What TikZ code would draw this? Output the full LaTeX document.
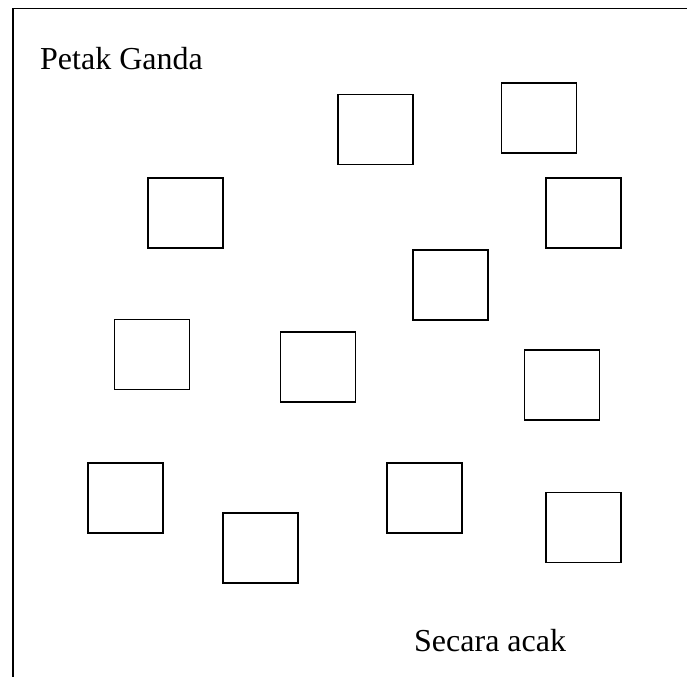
\documentclass[tikz,border=0pt]{standalone}
\usepackage{fontspec}
\setmainfont{Liberation Serif}
\begin{document}
\begin{tikzpicture}[x=1pt,y=-1pt,
  plot/.style={draw=black,line width=1.6pt,minimum width=75pt,minimum height=70pt,inner sep=0pt,anchor=north west},
  lbl/.style={font=\fontsize{32}{36}\selectfont,anchor=base west,inner sep=0pt}]
\useasboundingbox (0,0) rectangle (687,677);
\coordinate (tl) at (13,8.5);
\coordinate (tr) at (687,8.5);
\coordinate (bl) at (13,677);
\draw[line width=1.8pt] (tr) -- (tl) -- (bl);
\node[lbl] (t1) at (40,70) {Petak Ganda};
\node[lbl] (t2) at (414,651) {Secara acak};
\node[plot] (b1) at (337,93.5) {};
\node[plot] (b2) at (500.5,82) {};
\node[plot] (b3) at (147,177) {};
\node[plot] (b4) at (545,177) {};
\node[plot] (b5) at (412,249) {};
\node[plot] (b6) at (113.5,318.5) {};
\node[plot] (b7) at (279.5,331) {};
\node[plot] (b8) at (523.5,349) {};
\node[plot] (b9) at (87,462) {};
\node[plot] (b10) at (222,512) {};
\node[plot] (b11) at (386,462) {};
\node[plot] (b12) at (545,491.5) {};
\end{tikzpicture}
\end{document}
